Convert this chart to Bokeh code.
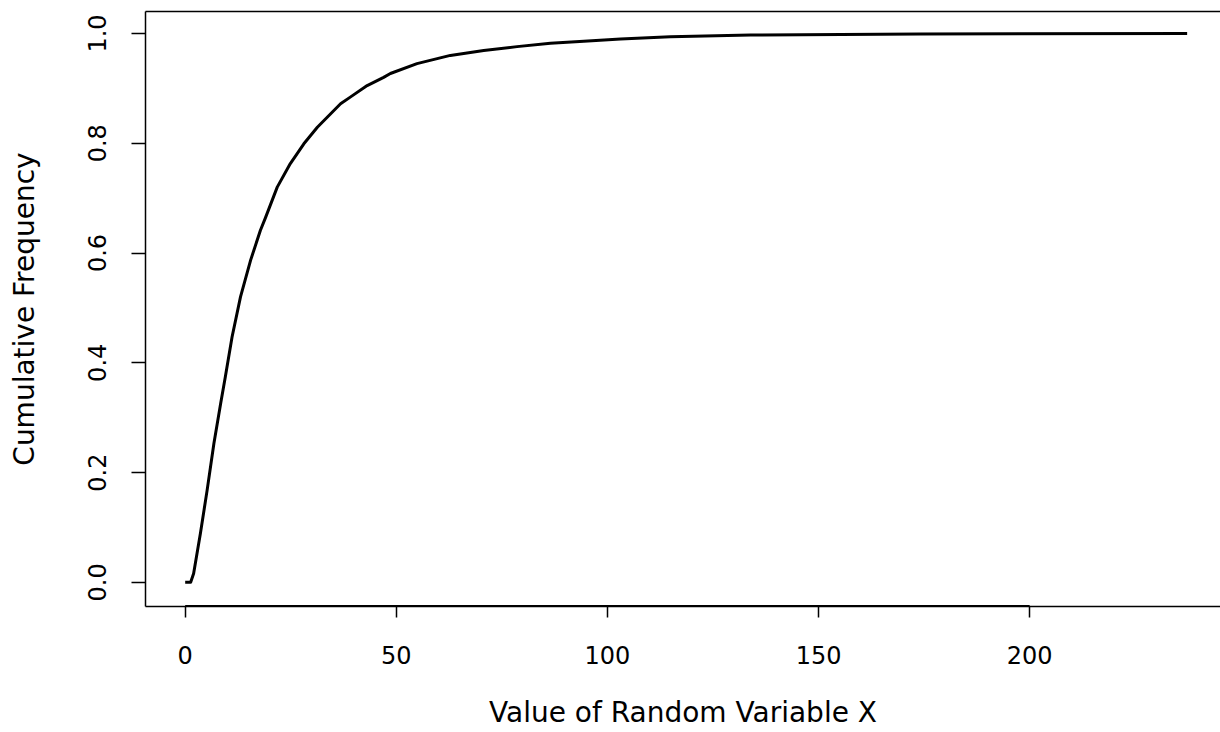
from bokeh.plotting import figure
from bokeh.models import Range1d, FixedTicker, PrintfTickFormatter, LinearAxis
from bokeh.embed import file_html
from bokeh.resources import INLINE

x_values = [0, 1.3, 2.0, 3.6, 5.2, 6.8, 8.4, 9.5, 11.1, 13.1, 15.5, 17.8, 19.0,
            21.8, 24.9, 28.1, 31.3, 36.8, 39.1, 43.1, 47.0, 48.6, 54.9, 62.8,
            70.7, 78.6, 86.5, 94.4, 103.1, 114.9, 133.9, 174.1, 237.3]
cum_freq = [0, 0.0, 0.016, 0.089, 0.168, 0.253, 0.326, 0.374, 0.447, 0.52, 0.587,
            0.641, 0.664, 0.72, 0.763, 0.799, 0.829, 0.872, 0.884, 0.905, 0.92,
            0.927, 0.945, 0.96, 0.969, 0.976, 0.982, 0.986, 0.99, 0.994, 0.997,
            0.999, 1.0]

x_ticks = [0, 50, 100, 150, 200]
y_ticks = [0.0, 0.2, 0.4, 0.6, 0.8, 1.0]

x_label = "Value of Random Variable X"
y_label = "Cumulative Frequency"

FONT = "DejaVu Sans"

p = figure(width=1220, height=732, output_backend="svg", toolbar_location=None,
           x_range=Range1d(-9.40, 245.2), y_range=Range1d(-0.044, 1.04),
           min_border_left=145, min_border_right=0, min_border_top=11,
           min_border_bottom=126)

p.xgrid.visible = False
p.ygrid.visible = False
p.outline_line_color = None
p.background_fill_color = "white"
p.border_fill_color = "white"

# ECDF curve
p.line(x_values, cum_freq, line_color="black", line_width=3, line_join="round")

# thicker axis line between first and last tick (as in R)
p.segment(x0=[x_ticks[0]], x1=[x_ticks[-1]], y0=[p.y_range.start], y1=[p.y_range.start],
          line_color="black", line_width=3)

xa = p.xaxis[0]
xa.ticker = FixedTicker(ticks=x_ticks)
xa.minor_tick_line_color = None
xa.major_tick_in = 0
xa.major_tick_out = 11
xa.major_tick_line_width = 1.5
xa.axis_line_width = 1.5
xa.major_label_text_font = FONT
xa.major_label_text_font_size = "24px"
xa.major_label_text_color = "black"
xa.major_label_standoff = 28
xa.axis_label = x_label
xa.axis_label_text_font = FONT
xa.axis_label_text_font_size = "28px"
xa.axis_label_text_font_style = "normal"
xa.axis_label_text_color = "black"
xa.axis_label_standoff = 29

ya = p.yaxis[0]
ya.ticker = FixedTicker(ticks=y_ticks)
ya.formatter = PrintfTickFormatter(format="%.1f")
ya.minor_tick_line_color = None
ya.major_tick_in = 0
ya.major_tick_out = 14
ya.major_tick_line_width = 1.5
ya.axis_line_width = 1.5
ya.major_label_orientation = "vertical"
ya.major_label_text_font = FONT
ya.major_label_text_font_size = "24px"
ya.major_label_text_color = "black"
ya.major_label_standoff = 25
ya.axis_label = y_label
ya.axis_label_text_font = FONT
ya.axis_label_text_font_size = "28px"
ya.axis_label_text_font_style = "normal"
ya.axis_label_text_color = "black"
ya.axis_label_standoff = 45

top = LinearAxis(major_tick_line_color=None, minor_tick_line_color=None,
                 major_label_text_font_size="0px", axis_line_width=1.5,
                 axis_line_color="black")
top.ticker = FixedTicker(ticks=[])
p.add_layout(top, "above")

open("out.html", "w").write(file_html(p, INLINE))
